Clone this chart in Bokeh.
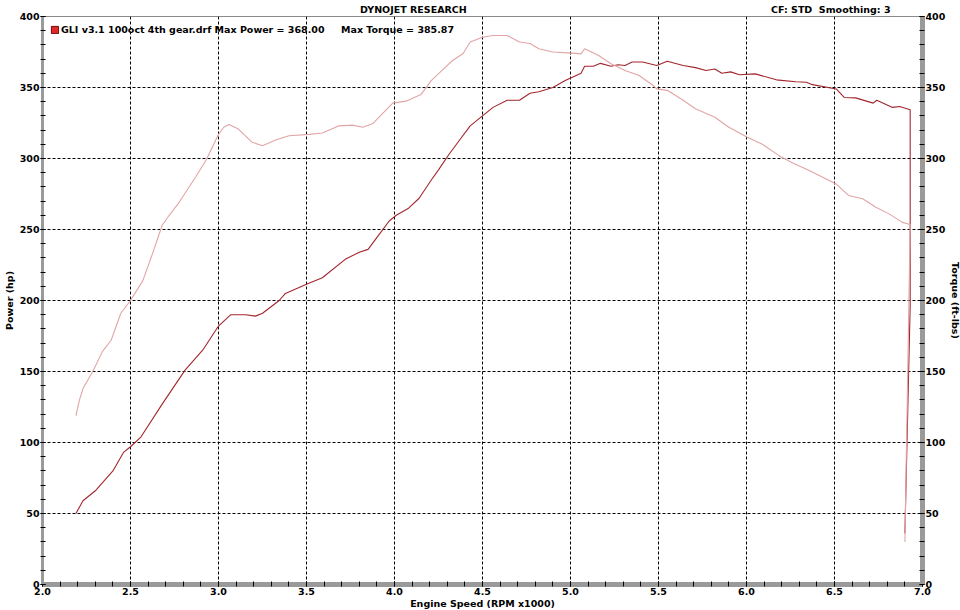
from bokeh.plotting import figure
from bokeh.models import (Range1d, LinearAxis, SingleIntervalTicker, PrintfTickFormatter,
                          Legend, LegendItem, Title)
from bokeh.embed import file_html
from bokeh.resources import INLINE

# ---- data (read from the dyno sheet) ----
rpm_power = [2.19, 2.23, 2.30, 2.40, 2.46, 2.50, 2.56, 2.68, 2.81, 2.91, 3.00, 3.07, 3.155, 3.21,
             3.25, 3.345, 3.38, 3.51, 3.59, 3.72, 3.80, 3.85, 3.91, 3.97, 4.01, 4.08, 4.14, 4.21,
             4.25, 4.31, 4.37, 4.43, 4.50, 4.56, 4.64, 4.71, 4.77, 4.82, 4.90, 4.97, 5.06, 5.08,
             5.13, 5.17, 5.23, 5.27, 5.31, 5.35, 5.41, 5.49, 5.55, 5.64, 5.71, 5.77, 5.82, 5.86,
             5.91, 5.96, 6.05, 6.17, 6.28, 6.34, 6.375, 6.51, 6.555, 6.62, 6.72, 6.74, 6.83, 6.87,
             6.93, 6.93, 6.90]
power_hp = [50, 59, 66, 80, 93, 97, 104, 127, 151, 165, 182, 190, 190, 189,
            191, 200, 205, 212, 216, 229, 234, 236, 246, 256, 260, 265, 272, 285,
            292, 303, 313, 323, 330, 336, 341, 341, 346, 347, 350, 355, 360, 365,
            365, 367, 365, 366, 365.5, 368, 368, 365.5, 368.5, 365.5, 364, 362, 363, 360,
            361, 359, 359.6, 355.4, 354, 353.7, 352, 349, 343, 342.7, 339, 341, 336, 336.6,
            334.3, 196, 36]

rpm_torque = [2.19, 2.21, 2.23, 2.29, 2.34, 2.39, 2.445, 2.50, 2.57, 2.625, 2.68, 2.72, 2.77,
              2.87, 2.93, 3.00, 3.03, 3.06, 3.11, 3.19, 3.25, 3.325, 3.40, 3.515, 3.59, 3.685,
              3.76, 3.82, 3.875, 3.94, 3.99, 4.065, 4.15, 4.21, 4.27, 4.33, 4.39, 4.43, 4.50,
              4.56, 4.64, 4.71, 4.77, 4.82, 4.90, 5.01, 5.06, 5.08, 5.16, 5.23, 5.31, 5.39,
              5.47, 5.49, 5.55, 5.64, 5.71, 5.82, 5.90, 6.005, 6.09, 6.185, 6.26, 6.356, 6.51,
              6.58, 6.66, 6.735, 6.81, 6.886, 6.93, 6.90]
torque_ftlb = [119, 130, 138, 151, 164, 172, 191, 200, 214, 233, 253, 260, 268,
               287, 299, 317, 322, 324, 321, 311.5, 309, 313, 316, 317, 318, 323,
               323.5, 322, 324.4, 332.6, 339, 340.4, 345, 355, 362, 369, 374, 382, 385.4,
               386.6, 386.6, 382, 381, 377.3, 375, 374.2, 373.7, 377.3, 372.5, 366.7, 362, 358.5,
               351.4, 349, 348, 341, 335, 329, 322, 315, 310, 302, 297, 291.5, 282,
               274, 271.6, 265.7, 261, 255, 253.5, 30]

run_name = "GLI v3.1 100oct 4th gear.drf"
max_power = 368.00
max_torque = 385.87
header_center = "DYNOJET RESEARCH"
header_right = "CF: STD\u00a0\u00a0Smoothing: 3"

FONT = "DejaVu Sans"
FS = "9.5px"
POWER_COLOR = "#a3262e"
TORQUE_COLOR = "#e2a4a6"

p = figure(frame_width=880, frame_height=568, x_range=Range1d(2.0, 7.0), y_range=Range1d(0, 400),
           output_backend="svg", toolbar_location=None, min_border_top=16,
           min_border_left=40, min_border_right=40, min_border_bottom=26,
           background_fill_color="white", border_fill_color="white", title=None)
p.extra_y_ranges = {"torque": Range1d(0, 400)}

p.line(rpm_power, power_hp, line_color=POWER_COLOR, line_width=1.1)
p.line(rpm_torque, torque_ftlb, line_color=TORQUE_COLOR, line_width=1.1, y_range_name="torque")

# header (one title line: centered name + right-hand info)
header = Title(text=header_center + "\u00a0" * 92 + header_right, align="right", offset=32,
               text_font=FONT, text_font_style="bold", text_font_size=FS, text_color="black",
               standoff=3)
p.add_layout(header, "above")

# axes
xax = p.xaxis[0]
left = p.yaxis[0]
xax.ticker = SingleIntervalTicker(interval=0.5, num_minor_ticks=5)
xax.formatter = PrintfTickFormatter(format="%.1f")
left.ticker = SingleIntervalTicker(interval=50, num_minor_ticks=5)
right = LinearAxis(y_range_name="torque", ticker=SingleIntervalTicker(interval=50, num_minor_ticks=5))
p.add_layout(right, "right")

xax.axis_label = "Engine Speed (RPM x1000)"
left.axis_label = "Power (hp)"
right.axis_label = "Torque (ft-lbs)"

for ax in [xax, left, right]:
    ax.axis_line_color = "#9a9a9a"
    ax.major_tick_line_color = "black"
    ax.minor_tick_line_color = "black"
    ax.major_tick_in = 3
    ax.major_tick_out = 2
    ax.minor_tick_in = 3
    ax.minor_tick_out = 2
    ax.major_label_text_font = FONT
    ax.major_label_text_font_style = "bold"
    ax.major_label_text_font_size = FS
    ax.major_label_text_color = "black"
    ax.axis_label_text_font = FONT
    ax.axis_label_text_font_style = "bold"
    ax.axis_label_text_font_size = FS
    ax.axis_label_text_color = "black"
    ax.major_label_standoff = 1
    ax.axis_label_standoff = 2
xax.axis_line_width = 5
left.axis_line_width = 3
right.axis_line_width = 5
xax.axis_label_standoff = 0

# grid
p.xgrid[0].ticker = xax.ticker
p.ygrid[0].ticker = left.ticker
for g in [p.xgrid[0], p.ygrid[0]]:
    g.grid_line_color = "black"
    g.grid_line_dash = "3 2"
    g.grid_line_width = 1

p.outline_line_color = "#8a8a8a"
p.outline_line_width = 1

# legend (red square swatch + run summary); the swatch renderer has no visible data
nan = float("nan")
swatch = p.quad(left=[nan], right=[nan], top=[nan], bottom=[nan],
                fill_color="#e3262c", line_color="#6e0b0e", line_width=1)
legend_text = (run_name + " Max Power = %.2f" % max_power + " " + "\u00a0" * 4
               + "Max Torque = %.2f" % max_torque)
legend = Legend(items=[LegendItem(label=legend_text, renderers=[swatch])], location="top_left",
                background_fill_alpha=0, border_line_alpha=0, label_text_font=FONT,
                label_text_font_style="bold", label_text_font_size=FS, label_text_color="black",
                glyph_width=9, glyph_height=9, label_standoff=2, padding=0, spacing=0,
                label_height=10, margin=8)
p.add_layout(legend)

open("out.html", "w").write(file_html(p, INLINE))
